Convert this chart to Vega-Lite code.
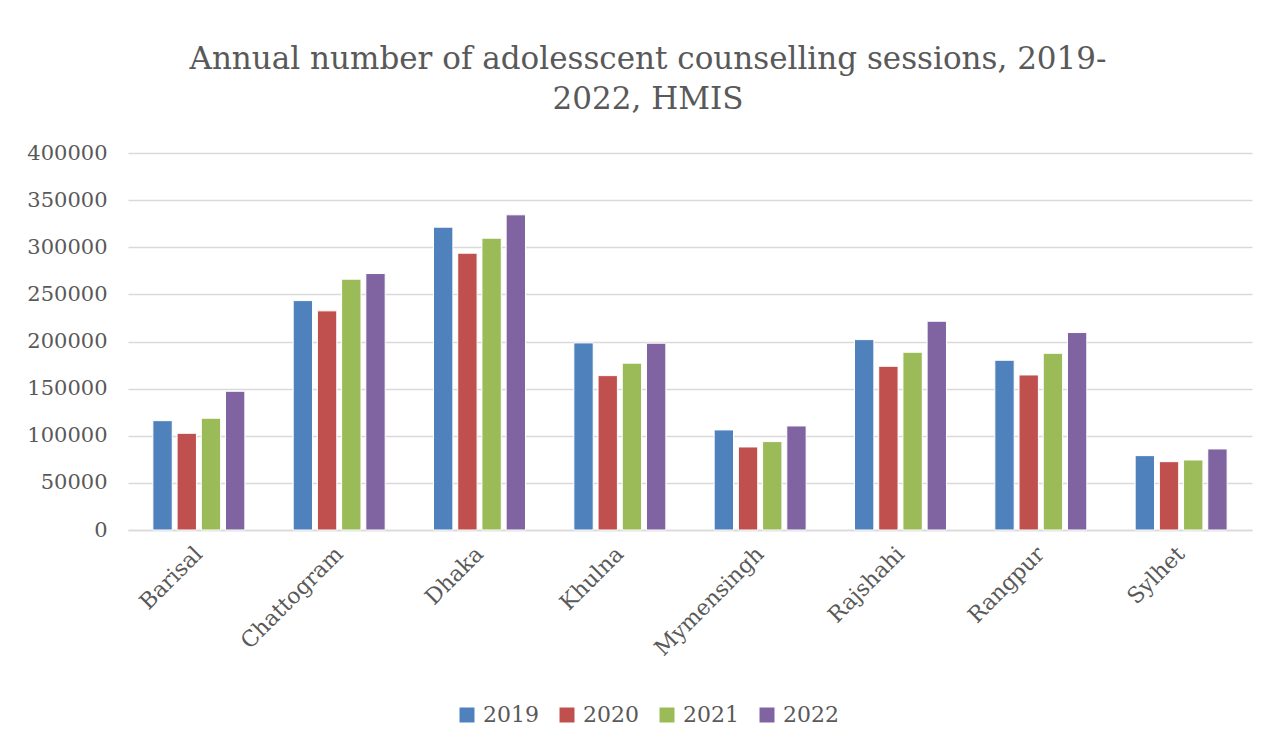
{
  "$schema": "https://vega.github.io/schema/vega-lite/v6.json",
  "autosize": {"type": "none"},
  "width": 1124,
  "height": 377,
  "padding": {"left": 128, "top": 153, "right": 16, "bottom": 217},
  "background": "white",
  "title": {
    "text": ["Annual number of adolesscent counselling sessions, 2019-", "2022, HMIS"],
    "anchor": "middle",
    "frame": "group",
    "dx": -42,
    "offset": 26,
    "font": "DejaVu Serif",
    "fontSize": 31,
    "fontWeight": "normal",
    "color": "#595959",
    "lineHeight": 40
  },
  "data": {
    "values": [
      {"region": "Barisal", "year": "2019", "value": 116000},
      {"region": "Barisal", "year": "2020", "value": 102600},
      {"region": "Barisal", "year": "2021", "value": 118600},
      {"region": "Barisal", "year": "2022", "value": 147200},
      {"region": "Chattogram", "year": "2019", "value": 243400},
      {"region": "Chattogram", "year": "2020", "value": 232500},
      {"region": "Chattogram", "year": "2021", "value": 266100},
      {"region": "Chattogram", "year": "2022", "value": 272100},
      {"region": "Dhaka", "year": "2019", "value": 321300},
      {"region": "Dhaka", "year": "2020", "value": 293700},
      {"region": "Dhaka", "year": "2021", "value": 309600},
      {"region": "Dhaka", "year": "2022", "value": 334400},
      {"region": "Khulna", "year": "2019", "value": 198500},
      {"region": "Khulna", "year": "2020", "value": 163800},
      {"region": "Khulna", "year": "2021", "value": 177000},
      {"region": "Khulna", "year": "2022", "value": 198200},
      {"region": "Mymensingh", "year": "2019", "value": 106200},
      {"region": "Mymensingh", "year": "2020", "value": 88100},
      {"region": "Mymensingh", "year": "2021", "value": 93800},
      {"region": "Mymensingh", "year": "2022", "value": 110400},
      {"region": "Rajshahi", "year": "2019", "value": 202000},
      {"region": "Rajshahi", "year": "2020", "value": 173700},
      {"region": "Rajshahi", "year": "2021", "value": 188600},
      {"region": "Rajshahi", "year": "2022", "value": 221500},
      {"region": "Rangpur", "year": "2019", "value": 180100},
      {"region": "Rangpur", "year": "2020", "value": 164500},
      {"region": "Rangpur", "year": "2021", "value": 187500},
      {"region": "Rangpur", "year": "2022", "value": 209500},
      {"region": "Sylhet", "year": "2019", "value": 78900},
      {"region": "Sylhet", "year": "2020", "value": 72500},
      {"region": "Sylhet", "year": "2021", "value": 74300},
      {"region": "Sylhet", "year": "2022", "value": 86000}
    ]
  },
  "mark": {"type": "bar", "stroke": "white", "strokeWidth": 1},
  "encoding": {
    "x": {
      "field": "region",
      "type": "nominal",
      "sort": null,
      "scale": {"paddingInner": 0.31, "paddingOuter": 0.16},
      "axis": {
        "title": null,
        "labelAngle": -45,
        "labelAlign": "right",
        "labelBaseline": "middle",
        "labelFont": "DejaVu Serif",
        "labelFontSize": 22,
        "labelColor": "#595959",
        "labelPadding": 20,
        "ticks": false,
        "domainColor": "#d9d9d9",
        "domainWidth": 1.5,
        "grid": false
      }
    },
    "xOffset": {
      "field": "year",
      "type": "nominal",
      "scale": {"paddingInner": 0.2, "paddingOuter": 0.1}
    },
    "y": {
      "field": "value",
      "type": "quantitative",
      "scale": {"domain": [0, 400000], "nice": false},
      "axis": {
        "title": null,
        "values": [0, 50000, 100000, 150000, 200000, 250000, 300000, 350000, 400000],
        "format": "d",
        "labelFont": "DejaVu Serif",
        "labelFontSize": 21,
        "labelColor": "#595959",
        "labelPadding": 21,
        "ticks": false,
        "domain": false,
        "gridColor": "#d9d9d9",
        "gridWidth": 1.5
      }
    },
    "color": {
      "field": "year",
      "type": "nominal",
      "scale": {"domain": ["2019", "2020", "2021", "2022"], "range": ["#4F81BD", "#C0504D", "#9BBB59", "#8064A2"]},
      "legend": {
        "title": null,
        "orient": "none",
        "legendX": 328,
        "legendY": 551,
        "direction": "horizontal",
        "symbolType": "square",
        "symbolSize": 225,
        "symbolStrokeWidth": 0,
        "labelFont": "DejaVu Serif",
        "labelFontSize": 22,
        "labelColor": "#595959",
        "labelOffset": 5,
        "columnPadding": 17
      }
    }
  },
  "config": {"view": {"stroke": null}}
}
